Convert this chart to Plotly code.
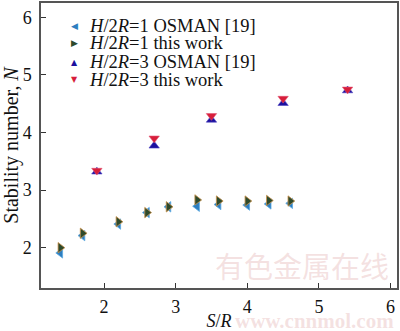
import plotly.graph_objects as go

# H/2R = 1
sr1 = [1.39, 1.7, 2.2, 2.6, 2.9, 3.3, 3.6, 4.0, 4.3, 4.6]
n1_osman = [1.91, 2.21, 2.41, 2.61, 2.71, 2.72, 2.75, 2.74, 2.76, 2.77]
n1_work = [2.0, 2.25, 2.45, 2.61, 2.71, 2.83, 2.81, 2.81, 2.82, 2.81]
# H/2R = 3
sr3 = [1.9, 2.7, 3.5, 4.5, 5.4]
n3_osman = [3.32, 3.77, 4.22, 4.51, 4.73]
n3_work = [3.34, 3.90, 4.29, 4.59, 4.75]

xticks = [2, 3, 4, 5, 6]
yticks = [2, 3, 4, 5, 6]

legend_labels = ["<i>H</i>/2<i>R</i>=1 OSMAN [19]", "<i>H</i>/2<i>R</i>=1 this work",
                 "<i>H</i>/2<i>R</i>=3 OSMAN [19]", "<i>H</i>/2<i>R</i>=3 this work"]
legend_symbols = ["◀", "▶", "▲", "▼"]
colors = ["#2D7EC0", "#2E4A2C", "#1C109E", "#D71E3A"]

FONT = "Liberation Serif"

fig = go.Figure()
fig.add_trace(go.Scatter(x=sr1, y=n1_osman, mode="markers", name=legend_labels[0],
                         marker=dict(symbol="triangle-left", size=9, color=colors[0],
                                     line=dict(color="#5AA8E0", width=0.8))))
fig.add_trace(go.Scatter(x=sr1, y=n1_work, mode="markers", name=legend_labels[1],
                         marker=dict(symbol="triangle-right", size=9, color=colors[1],
                                     line=dict(color="#C8904A", width=0.8))))
fig.add_trace(go.Scatter(x=sr3, y=n3_osman, mode="markers", name=legend_labels[2],
                         marker=dict(symbol="triangle-up", size=9, color=colors[2],
                                     line=dict(color="#4A3FC0", width=0.6))))
fig.add_trace(go.Scatter(x=sr3, y=n3_work, mode="markers", name=legend_labels[3],
                         marker=dict(symbol="triangle-down", size=9, color=colors[3],
                                     line=dict(color="#E05070", width=0.6))))

axis_common = dict(showgrid=False, zeroline=False, showline=True, linecolor="#555555",
                   linewidth=1.5, mirror=True, ticks="inside", ticklen=5, tickwidth=1.2,
                   tickcolor="#333333", tickfont=dict(family=FONT, size=18, color="#111111"))

fig.update_layout(
    width=400, height=331,
    margin=dict(l=41, r=1, t=1, b=41),
    paper_bgcolor="white", plot_bgcolor="white",
    font=dict(family=FONT, color="#111111"),
    xaxis=dict(range=[1.12, 6.09], tickvals=xticks, ticklabelstandoff=2,
               title=dict(text="<i>S</i>/<i>R</i>", font=dict(family=FONT, size=18), standoff=0),
               **axis_common),
    yaxis=dict(range=[1.3, 6.25], tickvals=yticks, ticklabelstandoff=4,
               title=dict(text="Stability number, <i>N</i>", font=dict(family=FONT, size=20), standoff=2),
               **axis_common),
    showlegend=False,
)

# legend drawn as annotations (compact row spacing like the reference)
row_y = [24, 42, 61, 79]
sym_sizes = [9, 9, 8, 8]
for i in range(4):
    yp = (290 - row_y[i]) / 289
    fig.add_annotation(text=legend_symbols[i], xref="paper", yref="paper",
                       x=(75 - 41) / 358, y=yp, xanchor="center", yanchor="middle",
                       showarrow=False, font=dict(family="DejaVu Sans", size=sym_sizes[i], color=colors[i]))
    fig.add_annotation(text=legend_labels[i], xref="paper", yref="paper",
                       x=(87 - 41) / 358, y=yp, xanchor="left", yanchor="middle",
                       showarrow=False, font=dict(family=FONT, size=18.5, color="#111111"))

# watermark
fig.add_annotation(text="有色金属在线", xref="paper", yref="paper", x=(393 - 41) / 358, y=(290 - 267) / 289,
                   xanchor="right", yanchor="middle", showarrow=False,
                   font=dict(family="Noto Sans CJK SC", size=29, color="rgba(225,170,170,0.35)"))
fig.add_annotation(text="<b>www.cnnmol.com</b>", xref="paper", yref="paper", x=(398 - 41) / 358, y=(290 - 323) / 289,
                   xanchor="right", yanchor="middle", showarrow=False,
                   font=dict(family=FONT, size=21, color="rgba(225,170,170,0.35)"))

fig.write_html("out.html")
